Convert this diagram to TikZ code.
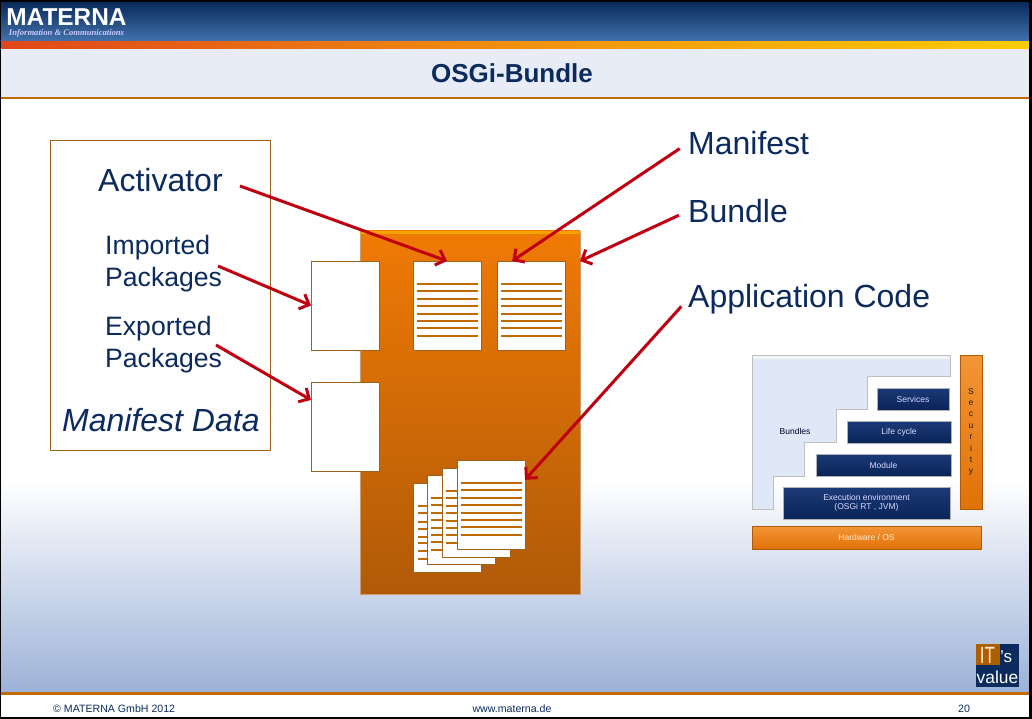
\documentclass[tikz,border=0pt]{standalone}
\usepackage{fontspec}
\setmainfont{Liberation Sans}
\newfontfamily\logoserif{Liberation Serif}
\usetikzlibrary{calc, arrows.meta}

\definecolor{navy}{HTML}{0B2A5E}
\definecolor{headtop}{HTML}{0A2A5A}
\definecolor{headbot}{HTML}{4373AE}
\definecolor{rulebrown}{HTML}{C06A00}
\definecolor{paleband}{HTML}{E8ECF6}
\definecolor{skyblue}{HTML}{9DB2D8}
\definecolor{bundletop}{HTML}{F07A05}
\definecolor{bundlebot}{HTML}{B05A08}
\definecolor{arrowred}{HTML}{C00010}
\definecolor{boxedge}{HTML}{A0621A}
\definecolor{stairblue}{HTML}{DFE8F6}
\definecolor{layertop}{HTML}{1C3A78}
\definecolor{layerbot}{HTML}{0A2458}
\definecolor{stripeleft}{HTML}{E0461A}
\definecolor{stripemid}{HTML}{F0900F}
\definecolor{striperight}{HTML}{FFCC00}

\tikzset{
    bigtext/.style={font=\fontsize{32}{38}\selectfont, text=navy, inner sep=0},
    midtext/.style={font=\fontsize{26.6}{32}\selectfont, text=navy, inner sep=0, align=left},
    doc/.style={draw=boxedge, line width=1pt, fill=white, anchor=north west, inner sep=0, outer sep=0, minimum width=68pt, minimum height=89pt},
    pointer/.style={draw=arrowred, line width=3pt, -{Straight Barb[length=8pt, width=16pt, line width=3pt]}},
    layer/.style={draw=black!30!white, line width=0.6pt, top color=layertop, bottom color=layerbot, text=white!85!blue, anchor=north west, inner sep=0, outer sep=0, font=\fontsize{8.5}{9.5}\selectfont, align=center},
    orangebar/.style={draw=bundlebot, line width=0.6pt, top color=bundletop!80!white, bottom color=bundletop!75!bundlebot, anchor=north west, inner sep=0, outer sep=0, font=\fontsize{8.5}{9.5}\selectfont},
    foot/.style={font=\fontsize{10.6}{13}\selectfont, text=navy, inner sep=0}
}

\newcommand{\doclines}[1]{
    \foreach \l in {22.7,29.7,38,45,53,59.7,67,75}
        \draw[rulebrown, line width=2pt] ($(#1.north west)+(4,\l)$) -- ++(61,0);
}

\begin{document}
\begin{tikzpicture}[x=1pt, y=-1pt]
    \useasboundingbox (0,0) rectangle (1032,719);

    % page background
    \fill[white] (0,0) rectangle (1032,719);
    \shade[top color=white, bottom color=skyblue] (0,480) rectangle (1032,692);
    \shade[top color=headtop, bottom color=headbot] (0,2) rectangle (1032,42);
    \shade[left color=stripeleft, right color=striperight, middle color=stripemid] (0,42) rectangle (1032,49);
    \fill[paleband] (0,49) rectangle (1032,97);
    \fill[rulebrown] (0,97) rectangle (1032,99);
    \fill[rulebrown] (0,692) rectangle (1032,695);

    \node (logo) [font=\bfseries\fontsize{24.4}{26}\selectfont, text=white, inner sep=0] at (66.5,17) {MATERNA};
    \node (logosub) [font=\logoserif\itshape\bfseries\fontsize{8.6}{9}\selectfont, text=white!80!blue, inner sep=0] at (66.5,33) {Information \& Communications};
    \node (title) [font=\bfseries\fontsize{26}{30}\selectfont, text=navy, inner sep=0] at (512,73) {OSGi-Bundle};

    % manifest data
    \node (manifest_box) [draw=boxedge, fill=white, line width=0.8pt, anchor=north west, inner sep=0, minimum width=220pt, minimum height=310pt] at (50,140) {};
    \node (activator) [bigtext, anchor=west] at (98,180) {Activator};
    \node (imported) [midtext, anchor=west] at (105,264) {Imported\\Packages};
    \node (exported) [midtext, anchor=west] at (105,345) {Exported\\Packages};
    \node (manifest_data) [bigtext, anchor=west, font=\itshape\fontsize{32}{38}\selectfont] at (62,420) {Manifest Data};

    % bundle
    \node (bundle_box) [anchor=north west, inner sep=0, outer sep=0, minimum width=220pt, minimum height=363pt, top color=bundletop, bottom color=bundlebot, draw=bundlebot!60!white, line width=0.6pt] at (360,231) {};
    \fill[bundletop!70!yellow] (360,231) rectangle (580,234);
    \node (pkg_a) [doc] at (311,261) {};
    \node (pkg_b) [doc] at (311,382) {};
    \node (doc_a) [doc] at (413,261) {};
    \node (doc_b) [doc] at (497,261) {};
    \doclines{doc_a}
    \doclines{doc_b}

    \node (code_a) [doc] at (413.5,483.5) {};
    \doclines{code_a}
    \node (code_b) [doc] at (427,475) {};
    \doclines{code_b}
    \node (code_c) [doc] at (442,468) {};
    \doclines{code_c}
    \node (code_d) [doc] at (457,460) {};
    \doclines{code_d}

    % labels on the right
    \node (manifest) [bigtext, anchor=west] at (688,143) {Manifest};
    \node (bundle) [bigtext, anchor=west] at (688,211) {Bundle};
    \node (app_code) [bigtext, anchor=west] at (688,299) {Application Code};

    \coordinate (activator_end) at (240,186);
    \coordinate (imported_end) at (218,266);
    \coordinate (exported_end) at (216,345);
    \draw[pointer] (activator_end) -- (doc_a.north);
    \draw[pointer] (imported_end) -- (pkg_a.west);
    \draw[pointer] (exported_end) -- (pkg_b.142);
    \draw[pointer, shorten <=10pt] (manifest.west) -- (doc_b.113);
    \draw[pointer, shorten <=10pt] (bundle.west) -- (bundle_box.54);
    \draw[pointer, shorten <=10pt] (app_code.west) -- (code_d.36);

    % layer stack
    \filldraw[fill=stairblue, draw=black!25!white, line width=0.5pt] (752,355) -- (950,355) -- (950,376) -- (867,376) -- (867,409) -- (836,409) -- (836,442) -- (804,442) -- (804,476) -- (773,476) -- (773,509) -- (752,509) -- cycle;
    \fill[white!60!stairblue] (753,356) rectangle (949,359);
    \node (bundles_txt) [font=\fontsize{8.5}{9.5}\selectfont, text=black!85!blue, inner sep=0] at (795,431) {Bundles};
    \node (services) [layer, minimum width=72pt, minimum height=22pt] at (877,388) {Services};
    \node (lifecycle) [layer, minimum width=104pt, minimum height=22pt] at (847,421) {Life cycle};
    \node (module) [layer, minimum width=135pt, minimum height=22pt] at (816,454) {Module};
    \node (execution) [layer, minimum width=167pt, minimum height=32pt] at (783,487) {Execution environment\\(OSGi RT , JVM)};
    \node (security) [orangebar, minimum width=22pt, minimum height=154pt, align=center, text=black!80!brown, font=\fontsize{8.5}{11.4}\selectfont] at (960,355) {S\\e\\c\\u\\r\\i\\t\\y};
    \node (hardware) [orangebar, minimum width=229pt, minimum height=23pt, text=white!85!orange] at (752,526) {Hardware / OS};

    % its value badge
    \fill[navy] (976,644) rectangle (1019,687);
    \fill[rulebrown!90!black] (976,644) rectangle (1000,665);
    \node (badge_it) [font=\fontsize{23.5}{24}\selectfont, text=white!85!orange, inner sep=0, xscale=0.72] at (987.5,655) {IT};
    \node (badge_s) [font=\fontsize{17}{18}\selectfont, text=white, inner sep=0] at (1006,657) {'s};
    \node (badge_value) [font=\fontsize{17.4}{18}\selectfont, text=white, inner sep=0] at (997.5,677) {value};

    % footer
    \node (copy) [foot, anchor=west] at (53,709) {© MATERNA GmbH 2012};
    \node (web) [foot] at (512,709) {www.materna.de};
    \node (pageno) [foot] at (964,709) {20};

    % frame
    \fill[black] (0,0) rectangle (1032,2);
    \fill[black] (0,717) rectangle (1032,719);
    \fill[black] (0,0) rectangle (1,719);
    \fill[black] (1029,0) rectangle (1032,719);
\end{tikzpicture}
\end{document}
